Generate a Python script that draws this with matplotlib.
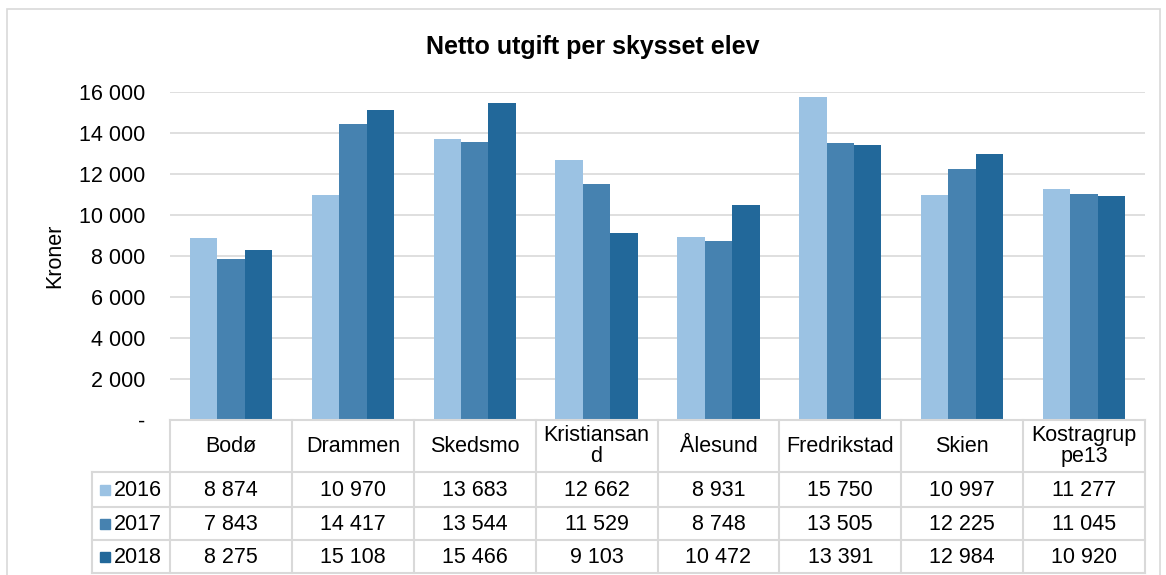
import matplotlib.pyplot as plt
from matplotlib.patches import Rectangle

plt.rcParams['font.family'] = ['Liberation Sans', 'DejaVu Sans']

kommuner = ['Bodø', 'Drammen', 'Skedsmo', 'Kristiansan\nd', 'Ålesund',
            'Fredrikstad', 'Skien', 'Kostragrup\npe13']
years = ['2016', '2017', '2018']
v2016 = [8874, 10970, 13683, 12662, 8931, 15750, 10997, 11277]
v2017 = [7843, 14417, 13544, 11529, 8748, 13505, 12225, 11045]
v2018 = [8275, 15108, 15466, 9103, 10472, 13391, 12984, 10920]
colors = ['#9BC2E3', '#4682B0', '#22689A']

W, H = 1166, 575
FS = 15.5


def fx(px):
    return px / W


def fy(py):
    return 1 - py / H


def fmt(v):
    return f'{v:,}'.replace(',', ' ')


def main():
    series = [v2016, v2017, v2018]
    fig = plt.figure(figsize=(W / 100, H / 100), dpi=100)

    # outer frame
    fig.patches.append(Rectangle((fx(7), fy(590)), fx(1160) - fx(7), fy(9) - fy(590),
                                 transform=fig.transFigure, fill=False,
                                 edgecolor='#D9D9D9', lw=1.2))

    left, right, top, bottom = 170, 1145, 92, 420
    ax = fig.add_axes([fx(left), fy(bottom), fx(right) - fx(left), fy(top) - fy(bottom)])
    n = len(kommuner)
    bw = 0.225
    for j, vals in enumerate(series):
        xs = [i + 0.5 + (j - 1) * bw for i in range(n)]
        ax.bar(xs, vals, width=bw, color=colors[j], zorder=3)
    ax.set_xlim(0, n)
    ax.set_ylim(0, 16000)
    ticks = list(range(0, 16001, 2000))
    ax.set_yticks(ticks)
    ax.set_yticklabels(['-'] + [fmt(t) for t in ticks[1:]], fontsize=FS)
    ax.set_xticks([])
    ax.tick_params(axis='y', length=0, pad=18)
    for t in ticks[1:]:
        ax.axhline(t, color='#D9D9D9', lw=1.2, zorder=1)
    for s in ax.spines.values():
        s.set_visible(False)
    fig.text(fx(55), fy(256), 'Kroner', rotation=90, ha='center', va='center',
             fontsize=FS)

    fig.text(fx(593), fy(47), 'Netto utgift per skysset elev', ha='center',
             va='center', fontsize=18, fontweight='bold')

    # data table below the plot
    tl, tr, tt, tb = 92, 1145, 420, 573
    tax = fig.add_axes([fx(tl), fy(tb), fx(tr) - fx(tl), fy(tt) - fy(tb)])
    unit = (right - left) / n
    lab_w = (left - tl) / unit
    tax.set_xlim(-lab_w, n)
    tax.set_ylim(tb - tt, 0)
    tax.axis('off')
    rows = [0, 52, 87, 120, 153]
    gc = '#D9D9D9'
    lw = 1.5
    tax.plot([0, n], [0, 0], color=gc, lw=lw, clip_on=False)
    for r in rows[1:]:
        tax.plot([-lab_w, n], [r, r], color=gc, lw=lw, clip_on=False)
    tax.plot([-lab_w, -lab_w], [rows[1], rows[-1]], color=gc, lw=lw, clip_on=False)
    for i in range(n + 1):
        tax.plot([i, i], [0, rows[-1]], color=gc, lw=lw, clip_on=False)
    for i, k in enumerate(kommuner):
        tax.text(i + 0.5, rows[0] + 26, k, ha='center', va='center', fontsize=FS,
                 linespacing=1.0)
    for j, vals in enumerate(series):
        yc = (rows[j + 1] + rows[j + 2]) / 2
        tax.add_patch(Rectangle((-lab_w + 8 / unit, yc - 5), 10 / unit, 10,
                                color=colors[j], clip_on=False))
        tax.text(-lab_w + 22 / unit, yc + 1, years[j], ha='left', va='center',
                 fontsize=FS)
        for i, v in enumerate(vals):
            tax.text(i + 0.5, yc + 1, fmt(v), ha='center', va='center', fontsize=FS)

    fig.savefig('out.png', dpi=100)


if __name__ == '__main__':
    main()
